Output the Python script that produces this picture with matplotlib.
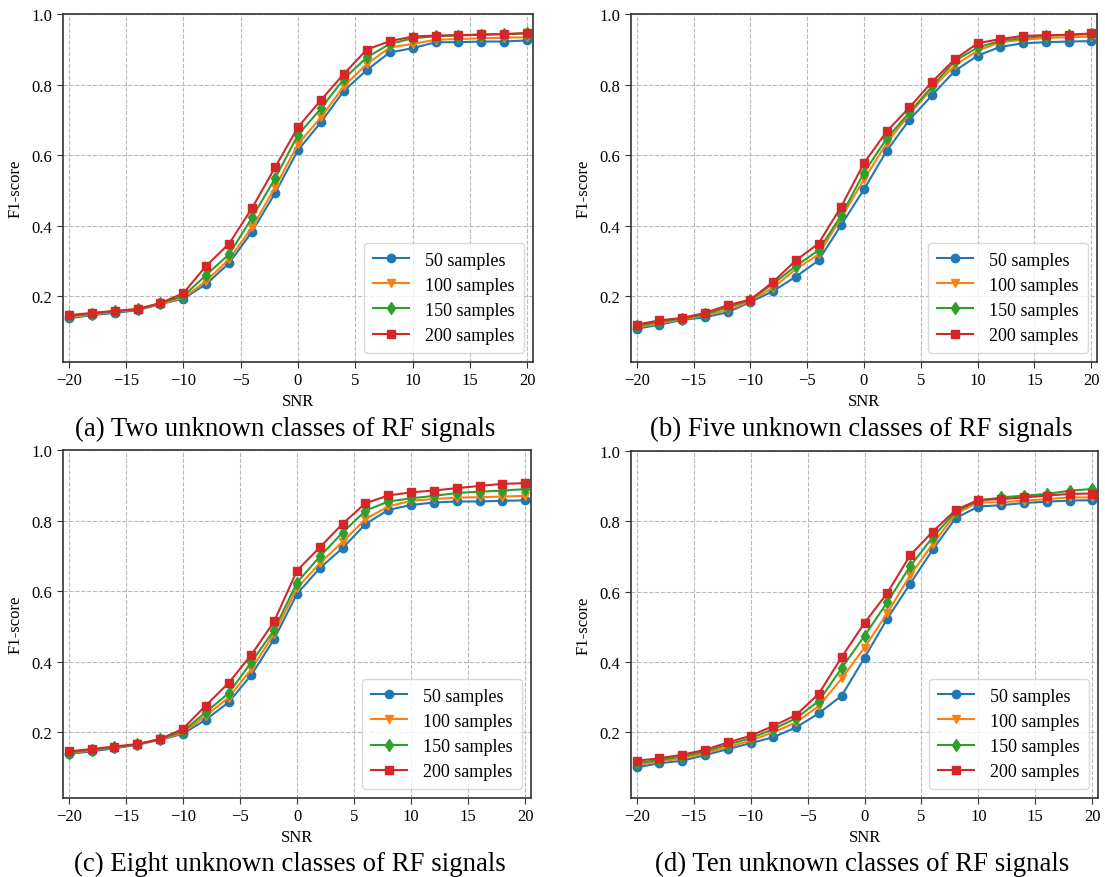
import matplotlib
matplotlib.use("Agg")
import matplotlib.pyplot as plt

plt.rcParams['font.family'] = ['Liberation Serif', 'DejaVu Serif']
plt.rcParams['mathtext.fontset'] = 'stix'

snr = [-20, -18, -16, -14, -12, -10, -8, -6, -4, -2, 0, 2, 4, 6, 8, 10, 12, 14, 16, 18, 20]
series_labels = ["50 samples", "100 samples", "150 samples", "200 samples"]
captions = ["(a) Two unknown classes of RF signals",
            "(b) Five unknown classes of RF signals",
            "(c) Eight unknown classes of RF signals",
            "(d) Ten unknown classes of RF signals"]

# Panel (a): two unknown classes
a_50 = [0.137, 0.146, 0.152, 0.160, 0.177, 0.193, 0.234, 0.294, 0.383, 0.492, 0.614, 0.693, 0.782, 0.841, 0.891, 0.903, 0.920, 0.920, 0.922, 0.922, 0.925]
a_100 = [0.140, 0.148, 0.155, 0.162, 0.178, 0.195, 0.243, 0.305, 0.395, 0.508, 0.631, 0.707, 0.795, 0.858, 0.905, 0.915, 0.927, 0.929, 0.931, 0.933, 0.934]
a_150 = [0.143, 0.150, 0.157, 0.163, 0.180, 0.200, 0.260, 0.319, 0.423, 0.534, 0.657, 0.732, 0.816, 0.877, 0.915, 0.931, 0.937, 0.939, 0.941, 0.943, 0.945]
a_200 = [0.146, 0.152, 0.158, 0.163, 0.180, 0.208, 0.286, 0.349, 0.450, 0.565, 0.679, 0.756, 0.830, 0.899, 0.923, 0.936, 0.939, 0.940, 0.942, 0.943, 0.946]

# Panel (b): five unknown classes
b_50 = [0.107, 0.119, 0.132, 0.140, 0.154, 0.183, 0.214, 0.255, 0.301, 0.402, 0.503, 0.612, 0.700, 0.770, 0.839, 0.882, 0.907, 0.917, 0.920, 0.922, 0.923]
b_100 = [0.111, 0.123, 0.134, 0.145, 0.160, 0.186, 0.224, 0.276, 0.318, 0.422, 0.531, 0.634, 0.716, 0.789, 0.855, 0.896, 0.920, 0.927, 0.932, 0.934, 0.936]
b_150 = [0.115, 0.127, 0.136, 0.148, 0.168, 0.189, 0.235, 0.285, 0.330, 0.429, 0.550, 0.647, 0.721, 0.795, 0.867, 0.905, 0.924, 0.932, 0.938, 0.941, 0.943]
b_200 = [0.119, 0.131, 0.138, 0.152, 0.174, 0.190, 0.240, 0.301, 0.349, 0.454, 0.577, 0.667, 0.735, 0.808, 0.872, 0.917, 0.929, 0.938, 0.940, 0.941, 0.945]

# Panel (c): eight unknown classes
c_50 = [0.138, 0.145, 0.154, 0.164, 0.178, 0.195, 0.235, 0.284, 0.362, 0.464, 0.592, 0.665, 0.722, 0.790, 0.830, 0.844, 0.851, 0.854, 0.854, 0.856, 0.857]
c_100 = [0.140, 0.148, 0.156, 0.165, 0.179, 0.198, 0.246, 0.298, 0.378, 0.479, 0.608, 0.679, 0.740, 0.804, 0.840, 0.856, 0.861, 0.865, 0.866, 0.868, 0.870]
c_150 = [0.142, 0.150, 0.157, 0.165, 0.180, 0.202, 0.256, 0.310, 0.398, 0.490, 0.624, 0.698, 0.766, 0.828, 0.854, 0.863, 0.870, 0.878, 0.882, 0.885, 0.889]
c_200 = [0.145, 0.152, 0.159, 0.166, 0.180, 0.209, 0.275, 0.339, 0.419, 0.514, 0.658, 0.724, 0.791, 0.849, 0.871, 0.880, 0.885, 0.892, 0.898, 0.904, 0.906]

# Panel (d): ten unknown classes
d_50 = [0.100, 0.112, 0.119, 0.135, 0.152, 0.169, 0.186, 0.214, 0.254, 0.304, 0.412, 0.523, 0.622, 0.720, 0.809, 0.842, 0.846, 0.852, 0.856, 0.859, 0.860]
d_100 = [0.106, 0.117, 0.125, 0.140, 0.158, 0.176, 0.200, 0.228, 0.275, 0.353, 0.441, 0.539, 0.646, 0.736, 0.821, 0.854, 0.854, 0.859, 0.863, 0.868, 0.868]
d_150 = [0.112, 0.121, 0.131, 0.145, 0.165, 0.183, 0.209, 0.240, 0.289, 0.383, 0.474, 0.570, 0.672, 0.755, 0.827, 0.859, 0.868, 0.873, 0.878, 0.887, 0.892]
d_200 = [0.119, 0.126, 0.136, 0.150, 0.171, 0.190, 0.218, 0.249, 0.310, 0.414, 0.511, 0.596, 0.703, 0.771, 0.832, 0.861, 0.863, 0.868, 0.873, 0.878, 0.879]

panels = [[a_50, a_100, a_150, a_200],
          [b_50, b_100, b_150, b_200],
          [c_50, c_100, c_150, c_200],
          [d_50, d_100, d_150, d_200]]

colors = ['#1f77b4', '#ff7f0e', '#2ca02c', '#d62728']
markers = ['o', 'v', 'd', 's']

W, H = 1105, 878
fig = plt.figure(figsize=(W / 100, H / 100), dpi=100)

# axes boxes in pixels: (left, top, right, bottom)
boxes = [(63, 15, 533, 363), (631, 15, 1097, 363),
         (63, 451, 531, 799), (631, 452, 1098, 799)]
cap_pos = [(285, 429), (861, 429), (290, 864), (862, 864)]

for i, (box, data) in enumerate(zip(boxes, panels)):
    l, t, r, b = box
    ax = fig.add_axes([l / W, 1 - b / H, (r - l) / W, (b - t) / H])
    for vals, c, m, lab in zip(data, colors, markers, series_labels):
        ax.plot(snr, vals, color=c, marker=m, markersize=6, linewidth=1.5, label=lab)
    ax.set_xlim(-20.5, 20.5)
    ax.set_ylim(0.013, 1.0)
    ax.set_xticks([-20, -15, -10, -5, 0, 5, 10, 15, 20])
    ax.set_yticks([0.2, 0.4, 0.6, 0.8, 1.0])
    ax.grid(True, linestyle='--', color='#b8b8b8', linewidth=0.8)
    ax.tick_params(labelsize=12, color='#333333', length=4)
    for s in ax.spines.values():
        s.set_color('#333333')
        s.set_linewidth(1.2)
    ax.set_xlabel('SNR', fontsize=12, labelpad=3)
    ax.set_ylabel('F1-score', fontsize=12, labelpad=6)
    leg = ax.legend(loc='lower right', fontsize=13, handlelength=2.0,
                    handletextpad=0.9, borderpad=0.5, labelspacing=0.45,
                    framealpha=0.8, fancybox=True, borderaxespad=0.5)
    leg.get_frame().set_edgecolor('#d0d0d0')
    fig.text(cap_pos[i][0] / W, 1 - cap_pos[i][1] / H, captions[i],
             fontsize=19.3, ha='center', va='center')

fig.savefig('out.png', dpi=100)
